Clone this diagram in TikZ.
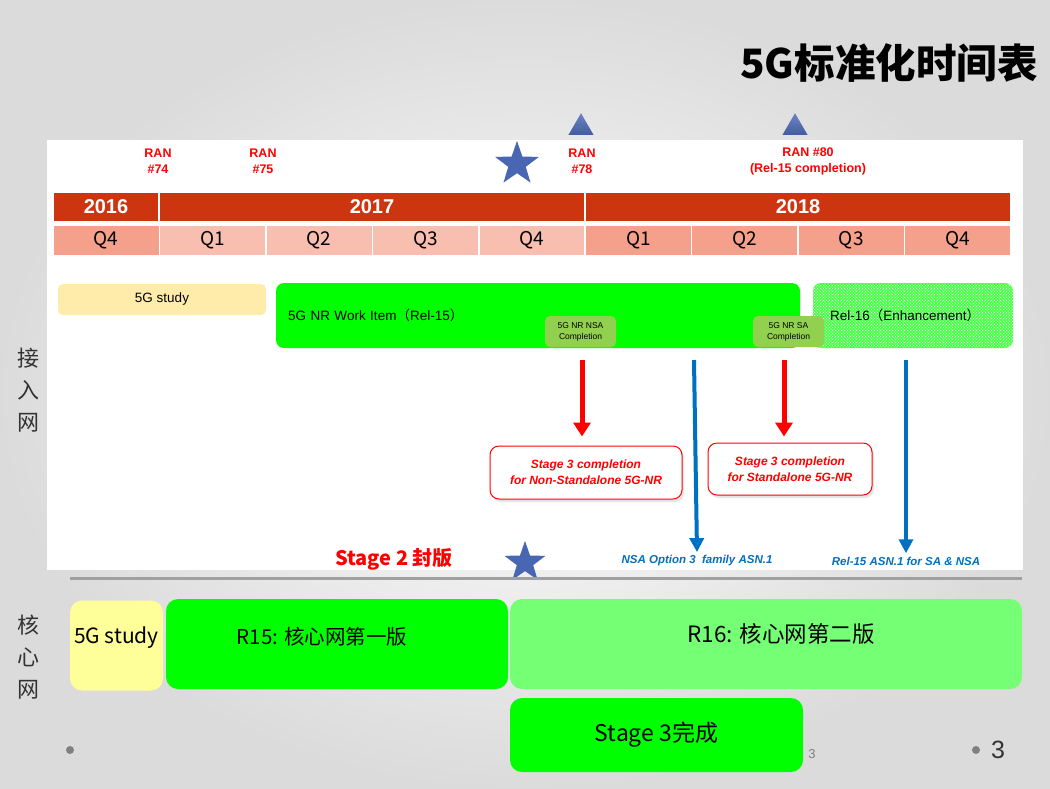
\documentclass[tikz,border=0pt]{standalone}
\usepackage{fontspec}
\setmainfont{Liberation Sans}
\newfontfamily\cjk{Noto Sans CJK SC}
\usetikzlibrary{arrows.meta,shapes.geometric,shadows,patterns,positioning}

\definecolor{yearred}{RGB}{205,53,16}
\definecolor{qdark}{RGB}{245,160,138}
\definecolor{qlight}{RGB}{248,190,176}
\definecolor{studyyellow}{RGB}{255,236,170}
\definecolor{coreyellow}{RGB}{255,255,153}
\definecolor{nrgreen}{RGB}{0,255,0}
\definecolor{smallgreen}{RGB}{146,208,80}
\definecolor{lightgreen}{RGB}{117,255,117}
\definecolor{arrowblue}{RGB}{0,112,192}
\definecolor{starblue}{RGB}{72,102,178}
\definecolor{linegray}{RGB}{160,160,160}

\begin{document}
\begin{tikzpicture}[x=1pt, y=-1pt,
    yearcell/.style={draw=white, line width=1.5pt, fill=yearred, minimum height=30pt,
        inner sep=0pt, text=white, font=\bfseries\fontsize{20}{20}\selectfont},
    qcell/.style={draw=white, line width=1.5pt, minimum width=106.4pt, minimum height=31pt,
        inner sep=0pt, font=\cjk\fontsize{19}{19}\selectfont},
    ran/.style={text=red, align=center, font=\bfseries\fontsize{12.5}{16}\selectfont},
    phase/.style={rounded corners=8pt, inner sep=0pt, minimum height=65pt,
        font=\fontsize{13.5}{14}\selectfont},
    milestone/.style={fill=smallgreen, rounded corners=5pt, minimum width=71pt,
        minimum height=31pt, inner sep=0pt, align=center, font=\fontsize{8.5}{11}\selectfont},
    stagebox/.style={draw=red, line width=1pt, fill=white, rounded corners=9pt,
        inner sep=0pt, align=center, text=red, font=\bfseries\itshape\fontsize{12}{16}\selectfont,
        drop shadow={opacity=0.2, shadow xshift=2pt, shadow yshift=-3pt}},
    asn/.style={text=arrowblue, font=\bfseries\itshape\fontsize{11.5}{12}\selectfont},
    redarrow/.style={draw=red, line width=5pt, -{Triangle[width=17pt,length=14pt]}},
    bluearrow/.style={draw=arrowblue, line width=4pt, -{Triangle[width=14pt,length=14pt]}},
    bluestar/.style={star, star points=5, star point ratio=2.5, fill=starblue,
        inner sep=0pt, minimum size=#1},
    ranflag/.style={regular polygon, regular polygon sides=3, inner sep=0pt,
        minimum size=29pt, top color=starblue!80, bottom color=starblue!90!black},
    corebar/.style={rounded corners=12pt, inner sep=0pt, minimum height=90pt},
    coretext/.style={font=\cjk\fontsize{#1}{#1}\selectfont},
    sidelabel/.style={align=center, text=black!80, font=\cjk\fontsize{22}{32}\selectfont}
]
    % slide background and white panel
    \shade[inner color=white, outer color=black!14] (0,0) rectangle (1050,788);
    \fill[white] (47,140) rectangle (1023,570);

    \node[font=\cjk\bfseries\fontsize{40.5}{40.5}\selectfont] (title) at (889,63) {5G标准化时间表};

    % time axis
    \node[yearcell, minimum width=106pt] (y2016) at (106,207) {2016};
    \node[yearcell, minimum width=426pt] (y2017) at (372,207) {2017};
    \node[yearcell, minimum width=426pt] (y2018) at (798,207) {2018};
    \foreach \lab/\col [count=\i from 0] in {Q4/qdark,Q1/qlight,Q2/qlight,Q3/qlight,
        Q4/qlight,Q1/qdark,Q2/qdark,Q3/qdark,Q4/qdark}
        \node[qcell, fill=\col] (q\i) at ({53+106.44*(\i+0.5)},240.5) {\lab};

    % RAN meetings
    \node[ran] (ran74) at (158,161) {RAN\\\#74};
    \node[ran] (ran75) at (263,161) {RAN\\\#75};
    \node[ran] (ran78) at (582,161) {RAN\\\#78};
    \node[ran] (ran80) at (808,161) {RAN \#80\\(Rel-15 completion)};
    \node[ranflag] (flag78) at (581,127.7) {};
    \node[ranflag] (flag80) at (795,127.7) {};
    \node[bluestar=46pt] (star1) at (517,164) {};

    % access network phases
    \node[phase, fill=studyyellow, minimum width=208pt, minimum height=31pt,
        rounded corners=5pt] (study) at (162,299.5) {5G study};
    \node[phase, fill=nrgreen, inner xsep=12pt, text width=500pt, align=left]
        (wi) at (538,315.5) {5G NR Work Item{\cjk（}Rel-15{\cjk）}};
    \node[phase, fill=nrgreen!70, inner xsep=17pt, text width=166pt, align=left,
        postaction={pattern=crosshatch dots, pattern color=white}]
        (rel16) at (913,315.5) {Rel-16{\cjk（}Enhancement{\cjk）}};
    \node[milestone] (nsa) at (580.5,331.5) {5G NR NSA\\Completion};
    \node[milestone] (sa) at (788.5,331.5) {5G NR SA\\Completion};

    \node[stagebox, minimum width=192pt, minimum height=53pt] (s3nsa) at (586,472.5)
        {Stage 3 completion\\for Non-Standalone 5G-NR};
    \node[stagebox, minimum width=164pt, minimum height=52pt] (s3sa) at (790,469)
        {Stage 3 completion\\for Standalone 5G-NR};
    \node[asn] (asnA) at (697,561) {NSA Option 3\ \ family ASN.1};
    \node[asn] (asnB) at (906,561) {Rel-15 ASN.1 for SA \& NSA};

    \coordinate (nsaTop) at (582,360);
    \coordinate (saTop) at (784,360);
    \coordinate (asnATop) at (694,360);
    \coordinate (asnBTop) at (906,360);
    \draw[redarrow, shorten >=9pt] (nsaTop) -- (s3nsa.north -| nsaTop);
    \draw[redarrow, shorten >=6pt] (saTop) -- (s3sa.north -| saTop);
    \draw[bluearrow] (asnATop) -- (asnA.north);
    \draw[bluearrow] (asnBTop) -- (asnB.north);

    \node[text=red, font=\cjk\bfseries\fontsize{20}{20}\selectfont] (stage2) at (394,559) {Stage 2 封版};
    \node[bluestar=43pt] (star2) at (525,562.5) {};
    \draw[linegray, line width=3pt] (70,578) -- (1022,578);

    % side labels
    \node[sidelabel] (access) at (28,390) {接\\入\\网};
    \node[sidelabel] (core) at (28,657) {核\\心\\网};

    % core network phases
    \node[corebar, fill=coreyellow, minimum width=93pt,
        label={[coretext=21, name=cstudytext, yshift=8pt]center:5G study}] (cstudy) at (116.5,645.5) {};
    \node[corebar, fill=nrgreen, minimum width=342pt,
        label={[coretext=20.5, name=r15text, xshift=-15pt, yshift=7pt]center:R15: 核心网第一版}] (r15) at (337,644) {};
    \node[corebar, fill=lightgreen, minimum width=512pt,
        label={[coretext=22.5, name=r16text, xshift=15pt, yshift=10pt]center:R16: 核心网第二版}] (r16) at (766,644) {};
    \node[corebar, fill=nrgreen, minimum width=293pt, minimum height=74pt,
        coretext=23] (stage3) at (656.5,735) {Stage 3完成};

    % footer
    \fill[gray] (70,750) circle (4);
    \fill[gray] (976,750) circle (4);
    \node[text=gray, font=\fontsize{13}{13}\selectfont] (pg1) at (812,754) {3};
    \node[text=black!80, font=\fontsize{25}{25}\selectfont] (pg2) at (998,750) {3};
\end{tikzpicture}
\end{document}
